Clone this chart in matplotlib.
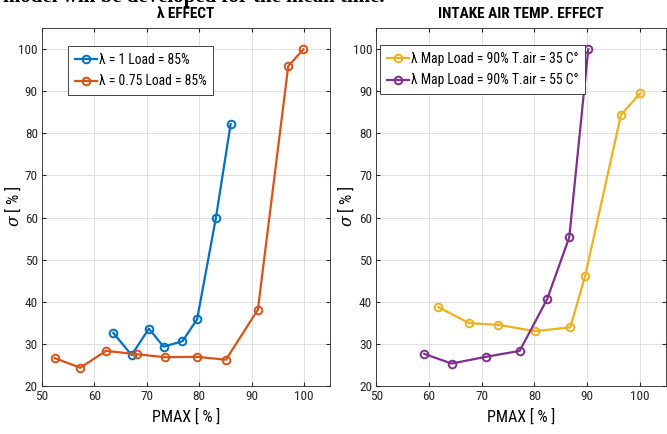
import matplotlib
matplotlib.use("Agg")
import matplotlib.pyplot as plt

plt.rcParams['font.family'] = ['Roboto Condensed', 'DejaVu Sans']
plt.rcParams['mathtext.fontset'] = 'dejavuserif'

# Left panel: lambda effect
lam1_x = [63.6, 67.1, 70.4, 73.2, 76.8, 79.6, 83.2, 86.0]
lam1_y = [32.6, 27.3, 33.6, 29.3, 30.6, 35.8, 60.0, 82.2]
lam075_x = [52.4, 57.3, 62.2, 68.2, 73.5, 79.5, 85.1, 91.2, 97.0, 99.9]
lam075_y = [26.6, 24.3, 28.3, 27.5, 26.8, 26.9, 26.2, 38.1, 96.0, 100.0]

# Right panel: intake air temperature effect
t35_x = [61.8, 67.6, 73.1, 80.1, 86.8, 89.6, 96.4, 100.1]
t35_y = [38.7, 34.9, 34.5, 33.0, 33.9, 46.1, 84.4, 89.6]
t55_x = [59.1, 64.3, 70.8, 77.2, 82.4, 86.6, 90.2]
t55_y = [27.6, 25.3, 26.9, 28.3, 40.6, 55.3, 100.0]

labels_left = ["λ = 1 Load = 85%", "λ = 0.75 Load = 85%"]
labels_right = ["λ Map Load = 90% T.air = 35 C°", "λ Map Load = 90% T.air = 55 C°"]
titles = ["λ EFFECT", "INTAKE AIR TEMP. EFFECT"]
xticks = [50, 60, 70, 80, 90, 100]
yticks = [20, 30, 40, 50, 60, 70, 80, 90, 100]

c_blue, c_orange, c_yellow, c_purple = "#0072BD", "#D95319", "#EDB120", "#7E2F8E"

fig = plt.figure(figsize=(6.67, 4.34), dpi=100)
ax1 = fig.add_axes([0.063, 0.111, 0.432, 0.824])
ax2 = fig.add_axes([0.564, 0.111, 0.435, 0.824])

fig.text(0.005, 0.995, "model will be developed for the mean time.", fontsize=15,
         family=["Liberation Serif", "DejaVu Serif"], fontweight="bold", va="baseline", ha="left")

def style(ax, title, lx):
    ax.set_xlim(50, 105)
    ax.set_ylim(20, 105)
    ax.set_xticks(xticks)
    ax.set_yticks(yticks)
    ax.grid(True, color="#e0e0e0", linewidth=0.7)
    ax.set_axisbelow(True)
    ax.tick_params(direction="in", top=True, right=True, length=3, labelsize=9.5,
                   colors="#262626", pad=3)
    for s in ax.spines.values():
        s.set_color("#262626")
        s.set_linewidth(0.6)
    ax.set_title(title, fontsize=11, fontweight="bold", pad=7)
    ax.set_xlabel("PMAX [ % ]", fontsize=11.5, labelpad=4)
    ax.set_ylabel(r"$\sigma$ [ % ]", fontsize=11.5)
    ax.yaxis.set_label_coords(lx, 0.5)

kw = dict(marker="o", markerfacecolor="none", markersize=5.5, markeredgewidth=1.4, linewidth=1.6)
ax1.plot(lam1_x, lam1_y, color=c_blue, label=labels_left[0], **kw)
ax1.plot(lam075_x, lam075_y, color=c_orange, label=labels_left[1], **kw)
ax2.plot(t35_x, t35_y, color=c_yellow, label=labels_right[0], **kw)
ax2.plot(t55_x, t55_y, color=c_purple, label=labels_right[1], **kw)

style(ax1, titles[0], -0.066)
style(ax2, titles[1], -0.07)

for ax, loc in ((ax1, (0.09, 0.95)), (ax2, (0.014, 0.953))):
    leg = ax.legend(loc="upper left", bbox_to_anchor=loc, fontsize=9.8, frameon=True,
                    fancybox=False, edgecolor="#262626", framealpha=1, handlelength=1.6,
                    handletextpad=0.15, borderpad=0.5, labelspacing=0.55, borderaxespad=0)
    leg.get_frame().set_linewidth(0.6)

fig.savefig("out.png", dpi=100)
